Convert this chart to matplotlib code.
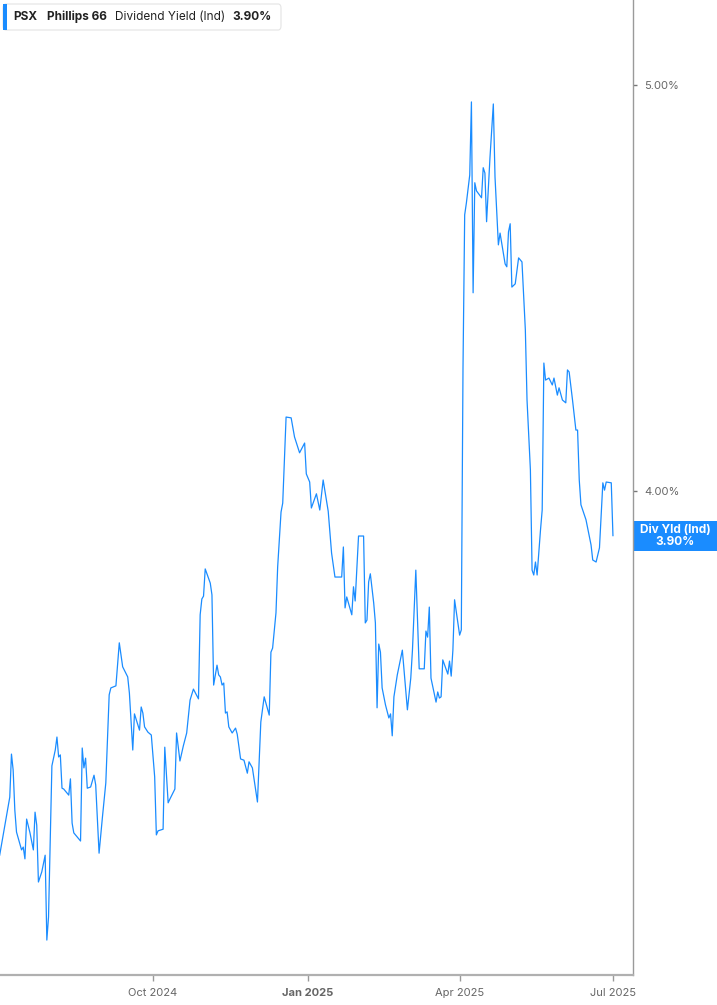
import matplotlib
matplotlib.use("Agg")
import matplotlib.pyplot as plt
import matplotlib.transforms as mtransforms
from matplotlib.patches import Rectangle, FancyBboxPatch
import pandas as pd

plt.rcParams['font.family'] = ['Inter', 'DejaVu Sans']

# dividend yield (%)
dates = [
    "2024-07-02", "2024-07-08", "2024-07-09", "2024-07-10", "2024-07-11", "2024-07-12",
    "2024-07-15", "2024-07-16", "2024-07-17", "2024-07-18", "2024-07-20", "2024-07-22",
    "2024-07-23", "2024-07-24", "2024-07-25", "2024-07-27", "2024-07-29", "2024-07-30",
    "2024-07-31", "2024-08-02", "2024-08-04", "2024-08-05", "2024-08-06", "2024-08-07",
    "2024-08-08", "2024-08-09", "2024-08-12", "2024-08-13", "2024-08-14", "2024-08-15",
    "2024-08-19", "2024-08-20", "2024-08-21", "2024-08-22", "2024-08-23", "2024-08-25",
    "2024-08-27", "2024-08-28", "2024-08-30", "2024-09-01", "2024-09-03", "2024-09-05",
    "2024-09-06", "2024-09-09", "2024-09-11", "2024-09-13", "2024-09-16", "2024-09-17",
    "2024-09-19", "2024-09-20", "2024-09-23", "2024-09-24", "2024-09-25", "2024-09-26",
    "2024-09-28", "2024-09-30", "2024-10-02", "2024-10-03", "2024-10-04", "2024-10-07",
    "2024-10-08", "2024-10-10", "2024-10-11", "2024-10-14", "2024-10-15", "2024-10-17",
    "2024-10-19", "2024-10-21", "2024-10-23", "2024-10-25", "2024-10-28", "2024-10-29",
    "2024-10-30", "2024-10-31", "2024-11-01", "2024-11-04", "2024-11-05", "2024-11-06",
    "2024-11-08", "2024-11-09", "2024-11-10", "2024-11-11", "2024-11-12", "2024-11-13",
    "2024-11-14", "2024-11-15", "2024-11-17", "2024-11-19", "2024-11-20", "2024-11-22",
    "2024-11-24", "2024-11-26", "2024-11-27", "2024-11-29", "2024-12-02", "2024-12-04",
    "2024-12-06", "2024-12-09", "2024-12-10", "2024-12-11", "2024-12-13", "2024-12-14",
    "2024-12-16", "2024-12-17", "2024-12-19", "2024-12-22", "2024-12-24", "2024-12-27",
    "2024-12-30", "2024-12-31", "2025-01-02", "2025-01-03", "2025-01-06", "2025-01-08",
    "2025-01-10", "2025-01-13", "2025-01-15", "2025-01-17", "2025-01-21", "2025-01-22",
    "2025-01-23", "2025-01-24", "2025-01-27", "2025-01-28", "2025-01-29", "2025-01-31",
    "2025-02-03", "2025-02-04", "2025-02-05", "2025-02-06", "2025-02-07", "2025-02-09",
    "2025-02-10", "2025-02-11", "2025-02-12", "2025-02-13", "2025-02-14", "2025-02-16",
    "2025-02-18", "2025-02-19", "2025-02-20", "2025-02-21", "2025-02-23", "2025-02-26",
    "2025-03-01", "2025-03-03", "2025-03-04", "2025-03-06", "2025-03-08", "2025-03-11",
    "2025-03-12", "2025-03-13", "2025-03-14", "2025-03-15", "2025-03-18", "2025-03-19",
    "2025-03-20", "2025-03-21", "2025-03-22", "2025-03-25", "2025-03-26", "2025-03-27",
    "2025-03-28", "2025-03-29", "2025-03-31", "2025-04-01", "2025-04-02", "2025-04-03",
    "2025-04-04", "2025-04-05", "2025-04-07", "2025-04-08", "2025-04-09", "2025-04-10",
    "2025-04-11", "2025-04-14", "2025-04-15", "2025-04-16", "2025-04-17", "2025-04-19",
    "2025-04-21", "2025-04-22", "2025-04-24", "2025-04-25", "2025-04-28", "2025-04-29",
    "2025-04-30", "2025-05-01", "2025-05-02", "2025-05-04", "2025-05-06", "2025-05-08",
    "2025-05-10", "2025-05-11", "2025-05-13", "2025-05-14", "2025-05-15", "2025-05-16",
    "2025-05-17", "2025-05-19", "2025-05-20", "2025-05-21", "2025-05-22", "2025-05-24",
    "2025-05-26", "2025-05-27", "2025-05-29", "2025-05-30", "2025-06-01", "2025-06-03",
    "2025-06-04", "2025-06-05", "2025-06-07", "2025-06-09", "2025-06-10", "2025-06-11",
    "2025-06-12", "2025-06-15", "2025-06-18", "2025-06-19", "2025-06-21", "2025-06-23",
    "2025-06-24", "2025-06-25", "2025-06-26", "2025-06-27", "2025-06-30", "2025-07-01",
]
yield_pct = [
    3.103, 3.246, 3.352, 3.313, 3.214, 3.160,
    3.116, 3.123, 3.094, 3.192, 3.158, 3.116,
    3.209, 3.177, 3.037, 3.062, 3.103, 2.894,
    2.951, 3.323, 3.362, 3.394, 3.345, 3.350,
    3.268, 3.266, 3.251, 3.291, 3.182, 3.158,
    3.138, 3.367, 3.318, 3.342, 3.268, 3.271,
    3.300, 3.276, 3.108, 3.197, 3.281, 3.498,
    3.515, 3.520, 3.626, 3.567, 3.542, 3.502,
    3.362, 3.451, 3.411, 3.468, 3.453, 3.419,
    3.406, 3.399, 3.296, 3.153, 3.163, 3.167,
    3.369, 3.232, 3.241, 3.266, 3.404, 3.335,
    3.372, 3.404, 3.485, 3.512, 3.488, 3.695,
    3.734, 3.741, 3.808, 3.773, 3.744, 3.522,
    3.571, 3.547, 3.542, 3.522, 3.527, 3.453,
    3.456, 3.419, 3.404, 3.416, 3.401, 3.340,
    3.337, 3.305, 3.333, 3.318, 3.234, 3.431,
    3.493, 3.448, 3.603, 3.613, 3.700, 3.813,
    3.948, 3.970, 4.182, 4.180, 4.133, 4.094,
    4.118, 4.042, 4.022, 3.958, 3.993, 3.953,
    4.027, 3.950, 3.847, 3.788, 3.788, 3.862,
    3.712, 3.739, 3.695, 3.764, 3.729, 3.889,
    3.889, 3.675, 3.682, 3.776, 3.796, 3.724,
    3.675, 3.466, 3.623, 3.603, 3.515, 3.473,
    3.441, 3.451, 3.397, 3.493, 3.547, 3.608,
    3.461, 3.539, 3.608, 3.805, 3.562, 3.562,
    3.655, 3.640, 3.714, 3.539, 3.480, 3.505,
    3.490, 3.493, 3.584, 3.549, 3.581, 3.544,
    3.608, 3.732, 3.675, 3.645, 3.658, 4.303,
    4.680, 4.709, 4.778, 4.958, 4.488, 4.759,
    4.739, 4.722, 4.796, 4.783, 4.663, 4.820,
    4.953, 4.773, 4.606, 4.635, 4.559, 4.552,
    4.638, 4.658, 4.502, 4.510, 4.574, 4.564,
    4.397, 4.224, 4.052, 3.805, 3.793, 3.825,
    3.793, 3.904, 3.953, 4.315, 4.273, 4.278,
    4.261, 4.278, 4.236, 4.254, 4.224, 4.217,
    4.298, 4.293, 4.224, 4.150, 4.150, 4.027,
    3.966, 3.929, 3.867, 3.830, 3.825, 3.860,
    3.941, 4.020, 4.002, 4.022, 4.020, 3.890,
]
tick_dates = ["2024-10-01", "2025-01-01", "2025-04-01", "2025-07-01"]
tick_labels = ["Oct 2024", "Jan 2025", "Apr 2025", "Jul 2025"]
y_ticks = [4.0, 5.0]
ticker, company, metric, current = "PSX", "Phillips 66", "Dividend Yield (Ind)", "3.90%"

blue = "#1a8cff"
W, H = 717, 1005

fig = plt.figure(figsize=(W / 100, H / 100), dpi=100)
ax = fig.add_axes([0, 30 / H, 633 / W, 975 / H])

ax.plot(pd.to_datetime(dates), yield_pct, color=blue, lw=0.9)

jan = pd.Timestamp("2025-01-01")
ax.set_xlim(jan - pd.Timedelta(days=182.8), jan + pd.Timedelta(days=192.9))
ax.set_ylim(2.808, 5.209)

ax.set_xticks(pd.to_datetime(tick_dates))
ax.set_xticklabels(tick_labels)
for lbl in ax.get_xticklabels():
    if lbl.get_text().startswith("Jan"):
        lbl.set_fontweight("bold")
        lbl.set_fontsize(10)
        lbl.set_color("#555555")
ax.set_yticks(y_ticks)
ax.set_yticklabels([f"{v:.2f}%" for v in y_ticks])

for s in ["left", "top"]:
    ax.spines[s].set_visible(False)
ax.spines["bottom"].set_color("#b0b0b0")
ax.spines["bottom"].set_linewidth(1.6)
ax.spines["right"].set_color("#9a9a9a")
ax.spines["right"].set_linewidth(1.0)

ax.tick_params(axis="x", length=4, width=1, color="#999999", labelcolor="#666666",
               labelsize=8, pad=5)
ax.tick_params(axis="y", left=False, labelleft=False, right=True, labelright=True,
               length=3, width=1, color="#777777", labelcolor="#666666",
               labelsize=8, pad=5)

# current value badge on the right axis
trans = mtransforms.blended_transform_factory(ax.transAxes, ax.transData)
last = yield_pct[-1]
ax.add_patch(Rectangle((1.0, last - 0.037), 84 / 633, 0.074, transform=trans,
                       facecolor=blue, edgecolor="none", clip_on=False))
ax.text(1.0 + 42 / 633, last, "Div Yld (Ind)\n" + current, transform=trans,
        ha="center", va="center", color="white", fontsize=8.5, fontweight="bold",
        linespacing=1.0, clip_on=False)

# legend box top-left
fig.patches.append(FancyBboxPatch((3 / W, 1 - 30 / H), 278 / W, 26 / H,
                                  boxstyle="round,pad=0,rounding_size=0.004",
                                  transform=fig.transFigure, facecolor="white",
                                  edgecolor="#e4e4e4", lw=0.8))
fig.patches.append(Rectangle((3 / W, 1 - 30 / H), 3.5 / W, 26 / H,
                             transform=fig.transFigure, facecolor=blue, edgecolor="none"))
yl = 1 - 16.5 / H
fig.text(13 / W, yl, ticker, fontsize=8.5, fontweight="bold", color="#222222", va="center")
fig.text(47 / W, yl, company, fontsize=8.5, fontweight="bold", color="#222222", va="center")
fig.text(115 / W, yl, metric, fontsize=8.5, color="#222222", va="center")
fig.text(232 / W, yl, current, fontsize=8.5, fontweight="bold", color="#222222", va="center")

fig.savefig("out.png", dpi=100)
